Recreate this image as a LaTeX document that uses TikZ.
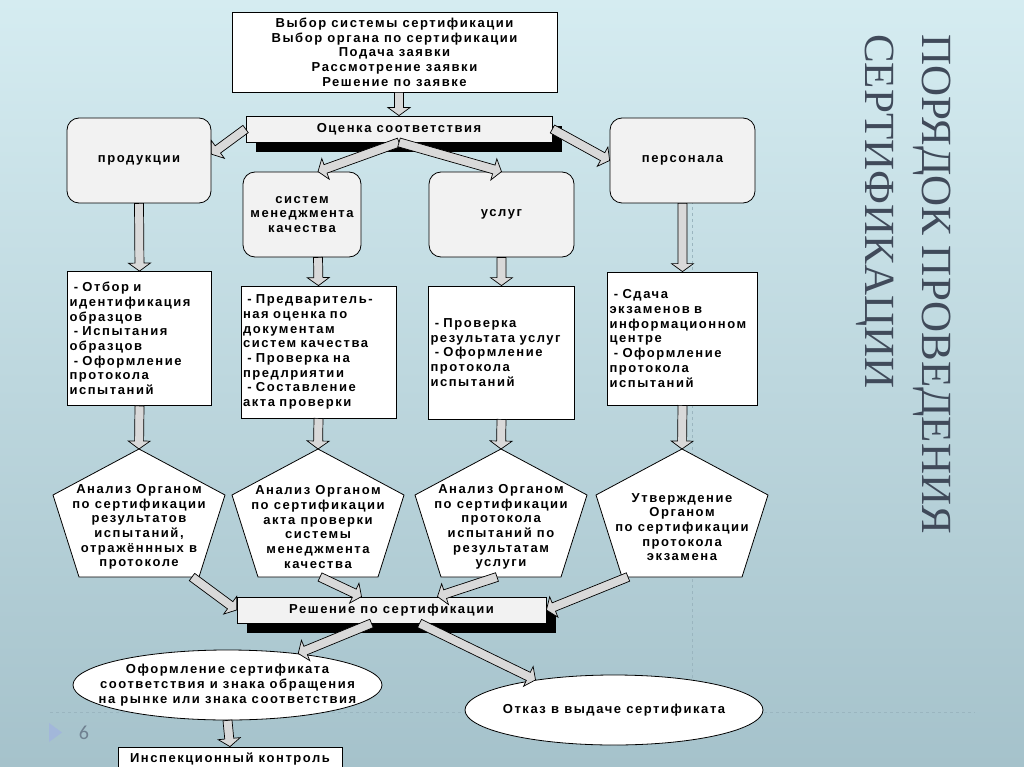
\documentclass[tikz,border=0pt]{standalone}
\usepackage{fontspec}
\setmainfont{Liberation Sans}
\newfontfamily\boxfont[LetterSpace=12]{Liberation Sans}
\newfontfamily\titlefont{Liberation Serif}
\newfontfamily\numfont{Carlito}
\usepackage{tikz}
\usetikzlibrary{calc, shadows, shapes.geometric}

\definecolor{bgtop}{HTML}{D5ECF1}
\definecolor{bgbot}{HTML}{A5C2CB}
\definecolor{boxgray}{HTML}{F2F2F2}
\definecolor{arrowgray}{HTML}{D9D9D9}
\definecolor{titleblue}{HTML}{404A5A}
\definecolor{guideblue}{HTML}{9AB5BF}
\definecolor{markblue}{HTML}{A2B7DA}
\definecolor{numgray}{HTML}{6F8090}

% hollow block arrow from #1 to #2
\newcommand{\blockarrow}[2]{%
	\coordinate (ba-m) at ($(#2)!8pt!(#1)$);
	\draw[blockarr] ($(#1)!4.5pt!90:(#2)$) -- ($(ba-m)!4.5pt!90:(#2)$) -- ($(ba-m)!11pt!90:(#2)$) -- (#2)
	-- ($(ba-m)!11pt!-90:(#2)$) -- ($(ba-m)!4.5pt!-90:(#2)$) -- ($(#1)!4.5pt!-90:(#2)$) -- cycle;}

\begin{document}
\begin{tikzpicture}[x=1pt, y=-1pt,
	every node/.style={font=\boxfont\bfseries\fontsize{13}{14.7}\selectfont, inner sep=2pt},
	plain/.style={draw, fill=white, line width=0.8pt},
	grey/.style={draw, fill=boxgray, line width=0.8pt},
	roundbox/.style={grey, rounded corners=12pt, align=center, minimum height=85pt},
	shadowbar/.style={grey, minimum height=26pt, drop shadow={shadow xshift=10pt, shadow yshift=-10pt, fill=black, opacity=1}},
	listbox/.style={plain, align=left},
	penta/.style={draw, fill=white, line width=0.8pt},
	oval/.style={plain, ellipse, minimum height=70pt},
	blockarr/.style={draw=black, fill=arrowgray, line width=0.7pt, line join=miter}]
	
	%//slide background
	\shade[top color=bgtop, bottom color=bgbot] (0,0) rectangle (1024,767);
	\useasboundingbox (0,0) rectangle (1024,767);
	\draw[guideblue, dashed, line width=0.5pt] (50,712) -- (975,712);
	\draw[guideblue, dashed, line width=0.5pt] (692,165) -- (692,712);
	\fill[markblue] (49,723) -- (62,732.5) -- (49,742) -- cycle;
	\node[font=\numfont\fontsize{20}{24}\selectfont, text=numgray] (pagenum) at (84,733) {6};
	
	\node[font=\titlefont\fontsize{43}{57}\selectfont, text=titleblue, rotate=-90, anchor=north west, align=left, inner sep=0pt] (title) at (951,34) {ПОРЯДОК ПРОВЕДЕНИЯ\\СЕРТИФИКАЦИИ};
	
	%//first stage
	\node[plain, minimum width=325pt, minimum height=80pt, align=center] (top) at (394.5,52) {Выбор системы сертификации\\Выбор органа по сертификации\\Подача заявки\\Рассмотрение заявки\\Решение по заявке};
	\node[shadowbar, minimum width=306pt] (ocen) at (399,129) {Оценка соответствия};
	
	\node[roundbox, minimum width=144pt] (prod) at (139,160.5) {продукции};
	\node[roundbox, minimum width=118pt] (sys) at (302,214.5) {систем\\менеджмента\\качества};
	\node[roundbox, minimum width=145pt] (usl) at (501.5,214.5) {услуг};
	\node[roundbox, minimum width=145pt] (pers) at (682.5,160.5) {персонала};
	
	\node[listbox, text width=140pt, minimum height=134pt] (b1) at (139.5,338.5) {\ - Отбор и\\идентификация\\образцов\\\ - Испытания\\образцов\\\ - Оформление\\протокола\\испытаний};
	\node[listbox, text width=151pt, minimum height=132pt] (b2) at (318.5,352) {\ - Предваритель-\\ная оценка по\\документам\\систем качества\\\ - Проверка на\\предлриятии\\\ - Составление\\акта проверки};
	\node[listbox, text width=142pt, minimum height=133pt] (b3) at (501.5,352.5) {\ - Проверка\\результата услуг\\\ - Оформление\\протокола\\испытаний};
	\node[listbox, text width=146pt, minimum height=133pt] (b4) at (682.5,338.5) {\ - Сдача\\экзаменов в\\информационном\\центре\\\ - Оформление\\протокола\\испытаний};
	
	%//pentagons
	\foreach \n/\cx in {p1/139, p2/318, p3/501, p4/682}{
		\draw[penta] (\cx,449) -- (\cx+86,495) -- (\cx+60,577) -- (\cx-60,577) -- (\cx-86,495) -- cycle;
		\coordinate (\n-top) at (\cx,449);
		\coordinate (\n-bot) at (\cx,577);
	}
	\node[align=center] (p1) at (139,527) {Анализ Органом\\по сертификации\\результатов\\испытаний,\\отражённных в\\протоколе};
	\node[align=center] (p2) at (318,527) {Анализ Органом\\по сертификации\\акта проверки\\системы\\менеджмента\\качества};
	\node[align=center] (p3) at (501,527) {Анализ Органом\\по сертификации\\протокола\\испытаний по\\результатам\\услуги};
	\node[align=center] (p4) at (682,527) {Утверждение\\Органом\\по сертификации\\протокола\\экзамена};
	
	%//decision
	\node[shadowbar, minimum width=309pt] (resh) at (391.5,610) {Решение по сертификации};
	\node[oval, minimum width=309pt, label={[align=center]center:Оформление сертификата\\соответствия и знака обращения\\на рынке или знака соответствия}] (ov1) at (227.5,685) {};
	\node[oval, minimum width=298pt, label={center:Отказ в выдаче сертификата}] (ov2) at (614,710) {};
	\node[plain, minimum width=224pt, minimum height=24pt] (insp) at (230,759) {Инспекционный контроль};
	
	%//arrows
	\blockarrow{top.south -| ocen}{ocen.north}
	\blockarrow{ocen.west}{prod.5}
	\blockarrow{ocen.south}{[xshift=16pt]sys.north}
	\blockarrow{ocen.south}{usl.north}
	\blockarrow{ocen.east}{pers.west}
	\blockarrow{prod.south}{b1.north}
	\blockarrow{[xshift=16pt]sys.south}{b2.north}
	\blockarrow{usl.south}{b3.north}
	\blockarrow{pers.south}{b4.north}
	\blockarrow{b1.south}{p1-top}
	\blockarrow{b2.south}{p2-top}
	\blockarrow{b3.south}{p3-top}
	\blockarrow{b4.south}{p4-top}
	\blockarrow{[xshift=53pt]p1-bot}{resh.west}
	\blockarrow{[xshift=2pt]p2-bot}{[xshift=-30pt]resh.north}
	\blockarrow{[xshift=-4pt]p3-bot}{[xshift=46pt]resh.north}
	\blockarrow{[xshift=-54pt]p4-bot}{resh.east}
	\blockarrow{[xshift=-20pt]resh.south}{ov1.24}
	\blockarrow{[xshift=28pt]resh.south}{ov2.159}
	\blockarrow{ov1.south}{insp.north}
	
\end{tikzpicture}
\end{document}
